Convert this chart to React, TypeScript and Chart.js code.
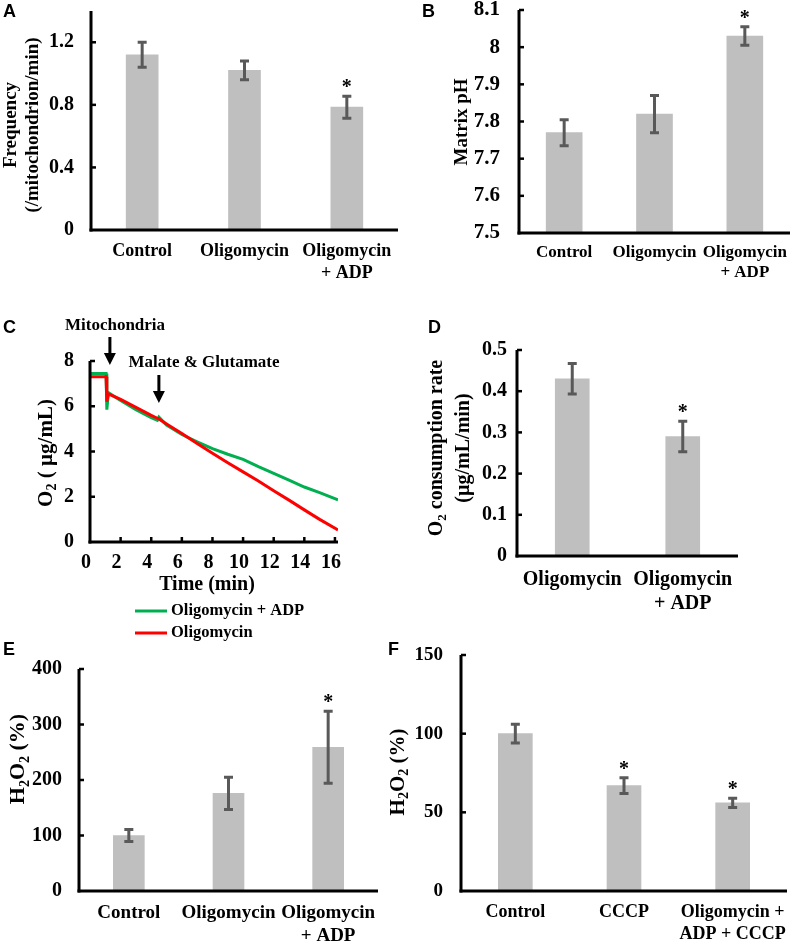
import React, { useEffect, useRef } from 'react';
import { Chart, registerables } from 'chart.js';

Chart.register(...registerables);

const SERIF = '"Liberation Serif", "Times New Roman", Times, serif';
const SANS = '"Liberation Sans", Arial, Helvetica, sans-serif';
const BAR_COLOR = '#BFBFBF';
const ERR_COLOR = '#595959';
const GREEN = '#00B050';
const RED = '#FF0000';

// ---------------- Panel A ----------------
const A_CATEGORIES = ['Control', 'Oligomycin', ['Oligomycin', '+ ADP']];
const A_VALUES = [1.12, 1.02, 0.785];
const A_SEM = [0.08, 0.06, 0.07];
const A_SIGNIFICANT = [false, false, true];
const A_Y_TICKS = [0, 0.4, 0.8, 1.2];
const A_Y_TITLE = ['Frequency', '(/mitochondrion/min)'];

// ---------------- Panel B ----------------
const B_CATEGORIES = ['Control', 'Oligomycin', ['Oligomycin', '+ ADP']];
const B_VALUES = [7.77, 7.82, 8.03];
const B_SEM = [0.035, 0.05, 0.025];
const B_SIGNIFICANT = [false, false, true];
const B_Y_TICKS = [7.5, 7.6, 7.7, 7.8, 7.9, 8, 8.1];
const B_Y_TITLE = ['Matrix pH'];

// ---------------- Panel C ----------------
const C_TIME = [0, 1.05, 1.1, 1.2, 2, 3, 4, 4.4, 4.5, 5, 6, 7, 8, 9, 10, 11, 12, 13, 14, 15, 16.2];
const C_OLIGO_ADP = [7.45, 7.45, 5.85, 6.6, 6.25, 5.85, 5.5, 5.38, 5.52, 5.17, 4.75, 4.43, 4.13, 3.88, 3.65, 3.33, 3.03, 2.73, 2.43, 2.18, 1.86];
const C_OLIGO = [7.3, 7.3, 6.2, 6.55, 6.3, 5.95, 5.6, 5.47, 5.44, 5.22, 4.8, 4.35, 3.92, 3.5, 3.1, 2.7, 2.27, 1.85, 1.42, 1.0, 0.53];
const C_SERIES_LABELS = ['Oligomycin + ADP', 'Oligomycin'];
const C_X_TICKS = [0, 2, 4, 6, 8, 10, 12, 14, 16];
const C_Y_TICKS = [0, 2, 4, 6, 8];
const C_EVENTS = ['Mitochondria', 'Malate & Glutamate'];
const C_EVENT_TIMES = [1.3, 4.5];
const C_Y_TITLE = ['O_2 ( µg/mL)'];
const C_X_TITLE = 'Time (min)';

// ---------------- Panel D ----------------
const D_CATEGORIES = ['Oligomycin', ['Oligomycin', '+ ADP']];
const D_VALUES = [0.43, 0.29];
const D_SEM = [0.037, 0.037];
const D_SIGNIFICANT = [false, true];
const D_Y_TICKS = [0, 0.1, 0.2, 0.3, 0.4, 0.5];
const D_Y_TITLE = ['O_2 consumption rate', '(µg/mL/min)'];

// ---------------- Panel E ----------------
const E_CATEGORIES = ['Control', 'Oligomycin', ['Oligomycin', '+ ADP']];
const E_VALUES = [100, 176, 259];
const E_SEM = [11, 29, 65];
const E_SIGNIFICANT = [false, false, true];
const E_Y_TICKS = [0, 100, 200, 300, 400];
const E_Y_TITLE = ['H_2O_2 (%)'];

// ---------------- Panel F ----------------
const F_CATEGORIES = ['Control', 'CCCP', ['Oligomycin +', 'ADP + CCCP']];
const F_VALUES = [100, 67, 56];
const F_SEM = [6, 5, 3];
const F_SIGNIFICANT = [false, true, true];
const F_Y_TICKS = [0, 50, 100, 150];
const F_Y_TITLE = ['H_2O_2 (%)'];

type Box = { x: number; y: number; w: number; h: number };
type Area = { l: number; t: number; r: number; b: number };
type Seg = { t: string; sub?: boolean };

function parseRich(s: string): Seg[] {
  const segs: Seg[] = [];
  let buf = '';
  for (let i = 0; i < s.length; i++) {
    if (s[i] === '_' && i + 1 < s.length) {
      if (buf) segs.push({ t: buf });
      buf = '';
      segs.push({ t: s[i + 1], sub: true });
      i++;
    } else buf += s[i];
  }
  if (buf) segs.push({ t: buf });
  return segs;
}

function drawRich(ctx: CanvasRenderingContext2D, text: string, cx: number, cy: number, size: number, rotate: boolean) {
  const segs = parseRich(text);
  ctx.save();
  ctx.translate(cx, cy);
  if (rotate) ctx.rotate(-Math.PI / 2);
  const main = `bold ${size}px ${SERIF}`;
  const subF = `bold ${Math.round(size * 0.65)}px ${SERIF}`;
  let total = 0;
  const widths = segs.map((s) => {
    ctx.font = s.sub ? subF : main;
    const w = ctx.measureText(s.t).width;
    total += w;
    return w;
  });
  let x = -total / 2;
  ctx.textAlign = 'left';
  ctx.textBaseline = 'alphabetic';
  ctx.fillStyle = '#000';
  const base = size * 0.34;
  segs.forEach((s, i) => {
    ctx.font = s.sub ? subF : main;
    ctx.fillText(s.t, x, base + (s.sub ? size * 0.2 : 0));
    x += widths[i];
  });
  ctx.restore();
}

const fmt = (v: number) => String(Math.round(v * 1000) / 1000);

const decorPlugin = {
  id: 'decor',
  afterDatasetsDraw(chart: any, _args: any, opts: any) {
    const ctx: CanvasRenderingContext2D = chart.ctx;
    const y = chart.scales.y;
    if (opts.sem) {
      const meta = chart.getDatasetMeta(0);
      const values = chart.data.datasets[0].data;
      ctx.save();
      opts.sem.forEach((e: number, i: number) => {
        const v = values[i];
        const px = meta.data[i].x;
        const yTop = y.getPixelForValue(v + e);
        const yBot = y.getPixelForValue(v - e);
        ctx.strokeStyle = ERR_COLOR;
        ctx.lineWidth = 3;
        ctx.beginPath();
        ctx.moveTo(px, yTop);
        ctx.lineTo(px, yBot);
        ctx.moveTo(px - 4.5, yTop);
        ctx.lineTo(px + 4.5, yTop);
        ctx.moveTo(px - 4.5, yBot);
        ctx.lineTo(px + 4.5, yBot);
        ctx.stroke();
        if (opts.sig && opts.sig[i]) {
          ctx.fillStyle = '#000';
          ctx.font = `bold 20px ${SERIF}`;
          ctx.textAlign = 'center';
          ctx.textBaseline = 'alphabetic';
          ctx.fillText('*', px, yTop - 3);
        }
      });
      ctx.restore();
    }
  },
  afterDraw(chart: any, _args: any, opts: any) {
    const ctx: CanvasRenderingContext2D = chart.ctx;
    const { left, right, top, bottom } = chart.chartArea;
    const x = chart.scales.x;
    const y = chart.scales.y;
    const ox = opts.origin[0];
    const oy = opts.origin[1];
    ctx.save();
    ctx.fillStyle = '#000';
    // axes
    ctx.fillRect(left - 1.5, top, 3, bottom - top + 1.5);
    ctx.fillRect(left - 1.5, bottom - 1.5, right - left + 1.5, 3);
    // inward ticks
    y.ticks.forEach((t: any) => {
      if (t.value === y.min) return;
      const py = y.getPixelForValue(t.value);
      ctx.fillRect(left, py - 1.25, 5, 2.5);
    });
    if (opts.xTicks) {
      x.ticks.forEach((t: any) => {
        if (t.value === x.min) return;
        const px = x.getPixelForValue(t.value);
        ctx.fillRect(px - 1.25, bottom - 5, 2.5, 5);
      });
    }
    // y title
    (opts.yTitle || []).forEach((line: string, i: number) => {
      drawRich(ctx, line, opts.yTitleX[i] - ox, opts.yTitleY - oy, opts.yTitleSize, true);
    });
    // x title
    if (opts.xTitle) {
      drawRich(ctx, opts.xTitle, opts.xTitlePos[0] - ox, opts.xTitlePos[1] - oy, opts.xTitleSize, false);
    }
    // panel letter
    ctx.font = `bold 18px ${SANS}`;
    ctx.textAlign = 'left';
    ctx.textBaseline = 'alphabetic';
    ctx.fillStyle = '#000';
    ctx.fillText(opts.letter, opts.letterPos[0] - ox, opts.letterPos[1] - oy);
    // event arrows
    if (opts.events) {
      opts.events.forEach((ev: any) => {
        const px = x.getPixelForValue(ev.time);
        ctx.fillStyle = '#000';
        ctx.fillRect(px - 1.5, ev.shaftTop - oy, 3, ev.tip - ev.shaftTop - 10);
        ctx.beginPath();
        ctx.moveTo(px - 6, ev.tip - oy - 12);
        ctx.lineTo(px + 6, ev.tip - oy - 12);
        ctx.lineTo(px, ev.tip - oy);
        ctx.closePath();
        ctx.fill();
        ctx.font = `bold 17px ${SERIF}`;
        ctx.textAlign = 'center';
        ctx.textBaseline = 'middle';
        ctx.fillText(ev.label, ev.labelPos[0] - ox, ev.labelPos[1] - oy);
      });
    }
    // legend
    if (opts.legend) {
      opts.legend.items.forEach((it: any, i: number) => {
        const ly = opts.legend.y[i] - oy;
        ctx.strokeStyle = it.color;
        ctx.lineWidth = 3;
        ctx.beginPath();
        ctx.moveTo(opts.legend.x0 - ox, ly);
        ctx.lineTo(opts.legend.x1 - ox, ly);
        ctx.stroke();
        ctx.fillStyle = '#000';
        ctx.font = `bold 16.5px ${SERIF}`;
        ctx.textAlign = 'left';
        ctx.textBaseline = 'middle';
        ctx.fillText(it.label, opts.legend.tx - ox, ly);
      });
    }
    ctx.restore();
  },
};

type BarSpec = {
  box: Box;
  area: Area;
  cats: any[];
  values: number[];
  sem: number[];
  sig: boolean[];
  yMin: number;
  yMax: number;
  yTicks: number[];
  barW: number;
  xFont: number;
  xPad: number;
  yFont: number;
  yPad: number;
  yTitle: string[];
  yTitleSize: number;
  yTitleX: number[];
  yTitleY: number;
  letter: string;
  letterPos: number[];
};

function barConfig(p: BarSpec): any {
  return {
    type: 'bar',
    data: {
      labels: p.cats,
      datasets: [{ data: p.values, backgroundColor: BAR_COLOR, borderWidth: 0, barThickness: p.barW }],
    },
    options: {
      animation: false,
      responsive: false,
      maintainAspectRatio: false,
      events: [],
      layout: {
        autoPadding: false,
        padding: { top: p.area.t - p.box.y, right: p.box.x + p.box.w - p.area.r, left: 0, bottom: 0 },
      },
      plugins: {
        legend: { display: false },
        tooltip: { enabled: false },
        decor: {
          origin: [p.box.x, p.box.y],
          sem: p.sem,
          sig: p.sig,
          yTitle: p.yTitle,
          yTitleSize: p.yTitleSize,
          yTitleX: p.yTitleX,
          yTitleY: p.yTitleY,
          letter: p.letter,
          letterPos: p.letterPos,
        },
      },
      scales: {
        x: {
          type: 'category',
          offset: true,
          grid: { display: false, drawTicks: false },
          border: { display: false },
          ticks: {
            color: '#000',
            font: { family: SERIF, weight: 'bold', size: p.xFont, lineHeight: 1.2 },
            padding: p.xPad,
            maxRotation: 0,
            minRotation: 0,
            autoSkip: false,
          },
          afterFit: (s: any) => {
            s.height = p.box.y + p.box.h - p.area.b;
            s.paddingLeft = 0;
            s.paddingRight = 0;
          },
        },
        y: {
          type: 'linear',
          min: p.yMin,
          max: p.yMax,
          grid: { display: false, drawTicks: false },
          border: { display: false },
          afterBuildTicks: (s: any) => {
            s.ticks = p.yTicks.map((v) => ({ value: v }));
          },
          ticks: {
            color: '#000',
            font: { family: SERIF, weight: 'bold', size: p.yFont },
            padding: p.yPad,
            callback: (v: any) => fmt(Number(v)),
          },
          afterFit: (s: any) => {
            s.width = p.area.l - p.box.x;
            s.paddingTop = 0;
            s.paddingBottom = 0;
          },
        },
      },
    },
    plugins: [decorPlugin],
  };
}

const BOX_C: Box = { x: 0, y: 300, w: 400, h: 345 };
const AREA_C: Area = { l: 90, t: 361, r: 338, b: 542 };

function lineConfig(): any {
  const box = BOX_C;
  const area = AREA_C;
  const green = C_TIME.map((t, i) => ({ x: t, y: C_OLIGO_ADP[i] }));
  const red = C_TIME.map((t, i) => ({ x: t, y: C_OLIGO[i] }));
  return {
    type: 'line',
    data: {
      datasets: [
        { label: C_SERIES_LABELS[0], data: green, borderColor: GREEN, borderWidth: 3, pointRadius: 0, tension: 0, fill: false, order: 1 },
        { label: C_SERIES_LABELS[1], data: red, borderColor: RED, borderWidth: 3, pointRadius: 0, tension: 0, fill: false, order: 0 },
      ],
    },
    options: {
      animation: false,
      responsive: false,
      maintainAspectRatio: false,
      events: [],
      layout: {
        autoPadding: false,
        padding: { top: area.t - box.y, right: box.x + box.w - area.r, left: 0, bottom: 0 },
      },
      plugins: {
        legend: { display: false },
        tooltip: { enabled: false },
        decor: {
          origin: [box.x, box.y],
          xTicks: true,
          yTitle: C_Y_TITLE,
          yTitleSize: 21,
          yTitleX: [45],
          yTitleY: 453,
          xTitle: C_X_TITLE,
          xTitleSize: 20,
          xTitlePos: [207, 583],
          letter: 'C',
          letterPos: [3, 333],
          events: C_EVENTS.map((label, i) => ({
            label,
            time: C_EVENT_TIMES[i],
            shaftTop: i === 0 ? 337 : 375,
            tip: i === 0 ? 365 : 403,
            labelPos: i === 0 ? [115, 326] : [204, 363],
          })),
          legend: {
            items: [
              { label: C_SERIES_LABELS[0], color: GREEN },
              { label: C_SERIES_LABELS[1], color: RED },
            ],
            y: [611, 633],
            x0: 135,
            x1: 167,
            tx: 171,
          },
        },
      },
      scales: {
        x: {
          type: 'linear',
          min: 0,
          max: 16.2,
          grid: { display: false, drawTicks: false },
          border: { display: false },
          afterBuildTicks: (s: any) => {
            s.ticks = C_X_TICKS.map((v) => ({ value: v }));
          },
          ticks: {
            color: '#000',
            font: { family: SERIF, weight: 'bold', size: 20, lineHeight: 1.2 },
            padding: 9,
            labelOffset: -4,
            maxRotation: 0,
            minRotation: 0,
            autoSkip: false,
            callback: (v: any) => fmt(Number(v)),
          },
          afterFit: (s: any) => {
            s.height = box.y + box.h - area.b;
            s.paddingLeft = 0;
            s.paddingRight = 0;
          },
        },
        y: {
          type: 'linear',
          min: 0,
          max: 8,
          grid: { display: false, drawTicks: false },
          border: { display: false },
          afterBuildTicks: (s: any) => {
            s.ticks = C_Y_TICKS.map((v) => ({ value: v }));
          },
          ticks: {
            color: '#000',
            font: { family: SERIF, weight: 'bold', size: 20 },
            padding: 16,
            callback: (v: any) => fmt(Number(v)),
          },
          afterFit: (s: any) => {
            s.width = area.l - box.x;
            s.paddingTop = 0;
            s.paddingBottom = 0;
          },
        },
      },
    },
    plugins: [decorPlugin],
  };
}

const SPEC_A: BarSpec = {
  box: { x: 0, y: 0, w: 400, h: 290 },
  area: { l: 91, t: 11, r: 398, b: 230 },
  cats: A_CATEGORIES, values: A_VALUES, sem: A_SEM, sig: A_SIGNIFICANT,
  yMin: 0, yMax: 1.4, yTicks: A_Y_TICKS, barW: 32,
  xFont: 18, xPad: 11, yFont: 20, yPad: 17,
  yTitle: A_Y_TITLE, yTitleSize: 19, yTitleX: [10, 32], yTitleY: 125,
  letter: 'A', letterPos: [3, 17],
};

const SPEC_B: BarSpec = {
  box: { x: 400, y: 0, w: 391, h: 290 },
  area: { l: 519, t: 10, r: 790, b: 233 },
  cats: B_CATEGORIES, values: B_VALUES, sem: B_SEM, sig: B_SIGNIFICANT,
  yMin: 7.5, yMax: 8.1, yTicks: B_Y_TICKS, barW: 36,
  xFont: 17, xPad: 9, yFont: 21, yPad: 19,
  yTitle: B_Y_TITLE, yTitleSize: 19, yTitleX: [461], yTitleY: 122,
  letter: 'B', letterPos: [422, 17],
};

const SPEC_D: BarSpec = {
  box: { x: 400, y: 300, w: 391, h: 320 },
  area: { l: 517, t: 350, r: 738, b: 556 },
  cats: D_CATEGORIES, values: D_VALUES, sem: D_SEM, sig: D_SIGNIFICANT,
  yMin: 0, yMax: 0.5, yTicks: D_Y_TICKS, barW: 34,
  xFont: 20, xPad: 11.5, yFont: 20, yPad: 10,
  yTitle: D_Y_TITLE, yTitleSize: 20, yTitleX: [435, 462], yTitleY: 448,
  letter: 'D', letterPos: [428, 333],
};

const SPEC_E: BarSpec = {
  box: { x: 0, y: 640, w: 380, h: 304 },
  area: { l: 79, t: 669, r: 378, b: 891 },
  cats: E_CATEGORIES, values: E_VALUES, sem: E_SEM, sig: E_SIGNIFICANT,
  yMin: 0, yMax: 400, yTicks: E_Y_TICKS, barW: 31,
  xFont: 19, xPad: 10.5, yFont: 20, yPad: 17,
  yTitle: E_Y_TITLE, yTitleSize: 22, yTitleX: [17], yTitleY: 759,
  letter: 'E', letterPos: [3, 655],
};

const SPEC_F: BarSpec = {
  box: { x: 380, y: 640, w: 411, h: 304 },
  area: { l: 461, t: 655, r: 787, b: 891 },
  cats: F_CATEGORIES, values: F_VALUES, sem: F_SEM, sig: F_SIGNIFICANT,
  yMin: 0, yMax: 150, yTicks: F_Y_TICKS, barW: 34,
  xFont: 18, xPad: 11, yFont: 19, yPad: 18,
  yTitle: F_Y_TITLE, yTitleSize: 21, yTitleX: [397], yTitleY: 772,
  letter: 'F', letterPos: [388, 655],
};

function ChartPanel({ box, build }: { box: Box; build: () => any }) {
  const ref = useRef<HTMLCanvasElement>(null);
  useEffect(() => {
    const chart = new Chart(ref.current as HTMLCanvasElement, build());
    return () => chart.destroy();
  }, []);
  return (
    <canvas
      ref={ref}
      width={box.w}
      height={box.h}
      style={{ position: 'absolute', left: box.x, top: box.y, width: box.w, height: box.h }}
    />
  );
}

export default function App() {
  return (
    <div style={{ position: 'absolute', left: 0, top: 0, width: 791, height: 944, background: '#fff', overflow: 'hidden' }}>
      <ChartPanel box={SPEC_A.box} build={() => barConfig(SPEC_A)} />
      <ChartPanel box={SPEC_B.box} build={() => barConfig(SPEC_B)} />
      <ChartPanel box={BOX_C} build={lineConfig} />
      <ChartPanel box={SPEC_D.box} build={() => barConfig(SPEC_D)} />
      <ChartPanel box={SPEC_E.box} build={() => barConfig(SPEC_E)} />
      <ChartPanel box={SPEC_F.box} build={() => barConfig(SPEC_F)} />
    </div>
  );
}
